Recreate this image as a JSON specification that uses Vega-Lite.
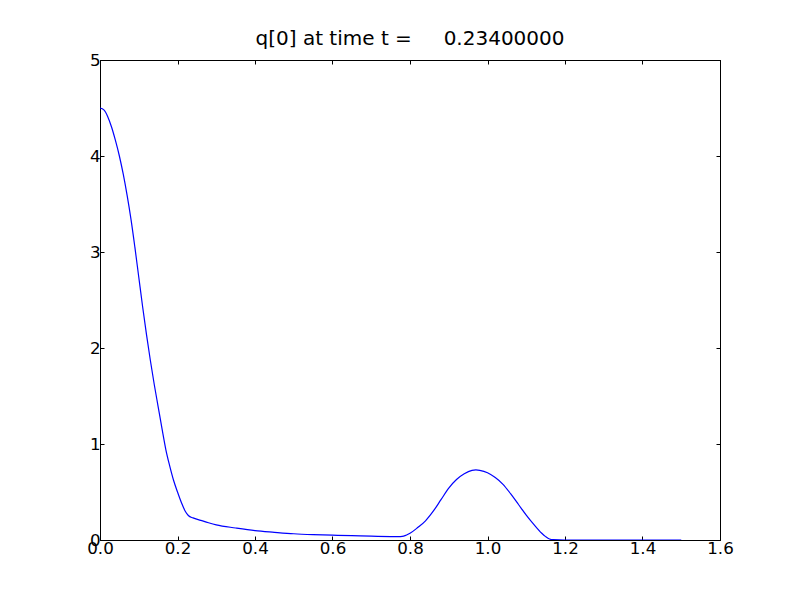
{
  "$schema": "https://vega.github.io/schema/vega-lite/v6.json",
  "width": 620,
  "height": 480,
  "autosize": "none",
  "padding": {"left": 100, "top": 60, "right": 80, "bottom": 60},
  "background": "white",
  "title": {
    "text": "q[0] at time t =\u00a0\u00a0\u00a0\u00a0\u00a00.23400000",
    "font": "DejaVu Sans",
    "fontSize": 20,
    "fontWeight": "normal",
    "color": "black",
    "offset": 3,
    "anchor": "middle"
  },
  "config": {
    "view": {"stroke": "black", "strokeWidth": 1},
    "axis": {
      "labelFont": "DejaVu Sans",
      "labelFontSize": 16.7,
      "labelColor": "black",
      "labelFlush": false,
      "labelOverlap": false,
      "grid": false,
      "domainColor": "black",
      "tickColor": "black",
      "tickSize": -4,
      "title": null
    }
  },
  "data": {
    "values": [
      {"x": 0.0, "y": 4.5},
      {"x": 0.01, "y": 4.48},
      {"x": 0.02, "y": 4.41},
      {"x": 0.03, "y": 4.3},
      {"x": 0.04, "y": 4.16},
      {"x": 0.05, "y": 4.0},
      {"x": 0.06, "y": 3.81},
      {"x": 0.07, "y": 3.59},
      {"x": 0.08, "y": 3.34},
      {"x": 0.09, "y": 3.05},
      {"x": 0.1, "y": 2.74},
      {"x": 0.11, "y": 2.43},
      {"x": 0.12, "y": 2.14},
      {"x": 0.13, "y": 1.87},
      {"x": 0.14, "y": 1.62},
      {"x": 0.15, "y": 1.39},
      {"x": 0.16, "y": 1.16},
      {"x": 0.17, "y": 0.94},
      {"x": 0.18, "y": 0.77},
      {"x": 0.19, "y": 0.62},
      {"x": 0.2, "y": 0.5},
      {"x": 0.21, "y": 0.39},
      {"x": 0.22, "y": 0.3},
      {"x": 0.228, "y": 0.255},
      {"x": 0.24, "y": 0.23},
      {"x": 0.26, "y": 0.205},
      {"x": 0.28, "y": 0.18},
      {"x": 0.3, "y": 0.158},
      {"x": 0.35, "y": 0.125},
      {"x": 0.4, "y": 0.097},
      {"x": 0.45, "y": 0.08},
      {"x": 0.5, "y": 0.065},
      {"x": 0.55, "y": 0.056},
      {"x": 0.6, "y": 0.05},
      {"x": 0.65, "y": 0.045},
      {"x": 0.7, "y": 0.04},
      {"x": 0.75, "y": 0.036},
      {"x": 0.77, "y": 0.035},
      {"x": 0.78, "y": 0.037},
      {"x": 0.79, "y": 0.05},
      {"x": 0.8, "y": 0.07},
      {"x": 0.82, "y": 0.13},
      {"x": 0.84, "y": 0.2},
      {"x": 0.86, "y": 0.3},
      {"x": 0.88, "y": 0.42},
      {"x": 0.9, "y": 0.54},
      {"x": 0.92, "y": 0.63},
      {"x": 0.94, "y": 0.69},
      {"x": 0.96, "y": 0.725},
      {"x": 0.97, "y": 0.73},
      {"x": 0.98, "y": 0.725},
      {"x": 1.0, "y": 0.7},
      {"x": 1.02, "y": 0.65},
      {"x": 1.04, "y": 0.58},
      {"x": 1.06, "y": 0.48},
      {"x": 1.08, "y": 0.37},
      {"x": 1.1, "y": 0.26},
      {"x": 1.12, "y": 0.16},
      {"x": 1.14, "y": 0.07},
      {"x": 1.15, "y": 0.035},
      {"x": 1.16, "y": 0.01},
      {"x": 1.17, "y": 0.003},
      {"x": 1.2, "y": 0.0},
      {"x": 1.3, "y": 0.0},
      {"x": 1.4, "y": 0.0},
      {"x": 1.5, "y": 0.0}
    ]
  },
  "layer": [
    {
      "mark": {"type": "line", "color": "#0000ff", "strokeWidth": 1.2, "interpolate": "monotone", "clip": true},
      "encoding": {
        "x": {
          "field": "x", "type": "quantitative",
          "scale": {"domain": [0, 1.6], "nice": false, "zero": false},
          "axis": {"orient": "bottom", "values": [0, 0.2, 0.4, 0.6, 0.8, 1.0, 1.2, 1.4, 1.6], "format": ".1f", "labelPadding": 4}
        },
        "y": {
          "field": "y", "type": "quantitative",
          "scale": {"domain": [0, 5], "nice": false, "zero": false},
          "axis": {"orient": "left", "values": [0, 1, 2, 3, 4, 5], "format": "d", "labelPadding": 4}
        }
      }
    },
    {
      "mark": {"type": "line", "opacity": 0},
      "encoding": {
        "x": {
          "field": "x", "type": "quantitative",
          "scale": {"domain": [0, 1.6], "nice": false, "zero": false},
          "axis": {"orient": "top", "values": [0, 0.2, 0.4, 0.6, 0.8, 1.0, 1.2, 1.4, 1.6], "labels": false}
        },
        "y": {
          "field": "y", "type": "quantitative",
          "scale": {"domain": [0, 5], "nice": false, "zero": false},
          "axis": {"orient": "right", "values": [0, 1, 2, 3, 4, 5], "labels": false}
        }
      }
    }
  ],
  "resolve": {"axis": {"x": "independent", "y": "independent"}}
}
